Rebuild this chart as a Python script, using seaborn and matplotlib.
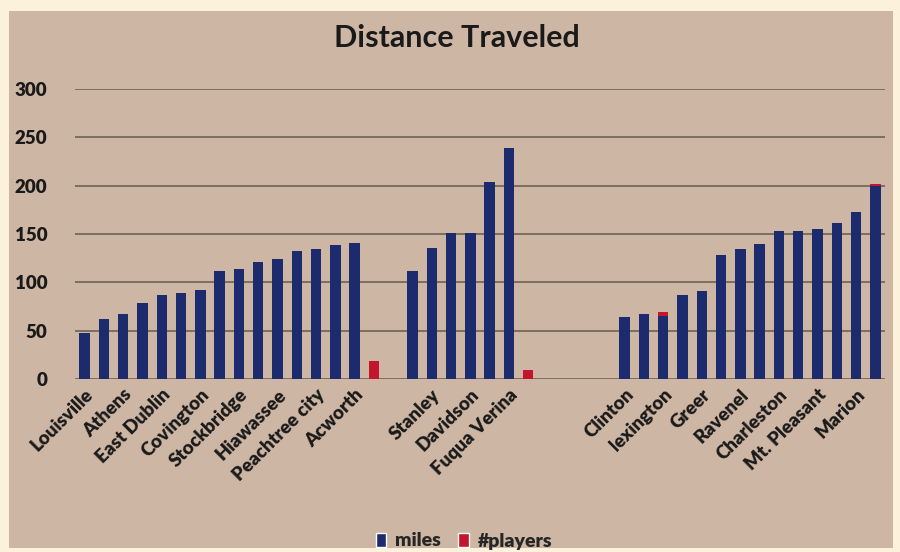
import numpy as np
import pandas as pd
import matplotlib
matplotlib.use("Agg")
import matplotlib.pyplot as plt
from matplotlib.patches import Rectangle, Patch
import seaborn as sns

# ---- data ----
tick_labels = ["Louisville", "", "Athens", "", "East Dublin", "", "Covington", "",
               "Stockbridge", "", "Hiawassee", "", "Peachtree city", "", "Acworth", "",
               "", "", "Stanley", "", "Davidson", "", "Fuqua Verina", "",
               "", "", "", "", "Clinton", "", "lexington", "", "Greer", "",
               "Ravenel", "", "Charleston", "", "Mt. Pleasant", "", "Marion", ""]
miles = [48, 62, 67, 79, 87, 89, 92, 112, 114, 121, 124, 132, 134, 139, 141, np.nan,
         np.nan, 112, 136, 151, 151, 204, 239, np.nan,
         np.nan, np.nan, np.nan, np.nan, 64, 67, 65, 87, 91, 128, 135, 140,
         153, 153, 155, 161, 173, 200]
players = [np.nan] * 15 + [19] + [np.nan] * 7 + [9] + [np.nan] * 6 + [4] + [np.nan] * 10 + [2]
yticks = [0, 50, 100, 150, 200, 250, 300]

navy = "#1c2a6e"
red = "#c3152b"
tan = "#cdb6a3"
cream = "#fcf2dc"
grid = "#6f6252"

pos = np.arange(len(tick_labels))
df = pd.DataFrame({"pos": pos, "miles": miles, "players": players})
df["total"] = df["miles"].fillna(0) + df["players"]

sns.set_theme(style="white")
plt.rcParams["font.family"] = ["Lato", "DejaVu Sans"]

fig = plt.figure(figsize=(9, 5.52), dpi=100)
fig.patch.set_facecolor(cream)
bg = Rectangle((9 / 900, 1 - 548 / 552), 884 / 900, 537 / 552,
               transform=fig.transFigure, facecolor=tan, edgecolor="none")
bg.set_zorder(-10)
fig.add_artist(bg)

ax = fig.add_axes([75 / 900, 1 - 379 / 552, 810 / 900, 290 / 552])
ax.set_zorder(5)
ax.set_facecolor("none")

order = list(pos)
d_red = df.dropna(subset=["total"])
d_blue = df.dropna(subset=["miles"])
sns.barplot(data=d_red, x="pos", y="total", order=order, color=red,
            width=0.54, saturation=1, linewidth=0, ax=ax, zorder=2)
sns.barplot(data=d_blue, x="pos", y="miles", order=order, color=navy,
            width=0.54, saturation=1, linewidth=0, ax=ax, zorder=3)

ax.set_xlim(-0.5, len(tick_labels) - 0.5)
ax.set_ylim(0, 300)
ax.set_yticks(yticks)
ax.set_yticklabels([str(v) for v in yticks], fontsize=13.5, fontweight="heavy",
                   color="#1a1a1a")
ax.yaxis.grid(True, color=grid, linewidth=1.2, zorder=1)
ax.set_axisbelow(True)
ax.set_xticks(pos)
ax.set_xticklabels(tick_labels, rotation=45, ha="right", va="top",
                   rotation_mode="anchor", fontsize=13.5, fontweight="heavy",
                   color="#1a1a1a")
ax.tick_params(axis="x", length=0, pad=5)
ax.tick_params(axis="y", length=0, pad=20)
for s in ax.spines.values():
    s.set_visible(False)
ax.set_xlabel("")
ax.set_ylabel("")

fig.text(457 / 900, 1 - 38 / 552, "Distance Traveled", ha="center", va="center",
         fontsize=22, fontweight="bold", color="#1a1a1a")

handles = [Patch(facecolor=navy, label="miles"), Patch(facecolor=red, label="#players")]
fig.legend(handles=handles, loc="center", bbox_to_anchor=(464 / 900, 1 - 541 / 552),
           ncol=2, frameon=False, handlelength=0.55, handleheight=0.7,
           handletextpad=0.45, columnspacing=0.9,
           prop={"weight": "heavy", "size": 14})

fig.savefig("out.png", dpi=100, facecolor=cream)
